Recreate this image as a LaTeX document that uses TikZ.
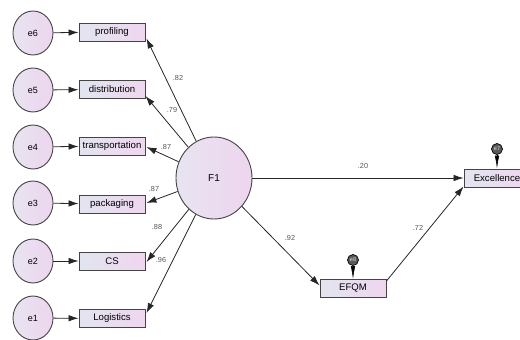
\documentclass[tikz,border=0pt]{standalone}
\usepackage{fontspec}
\setmainfont{Liberation Sans}
\usetikzlibrary{arrows.meta,calc,shapes.geometric}
\definecolor{shadeL}{HTML}{E2E5EF}
\definecolor{shadeR}{HTML}{EFD6EF}
\definecolor{circL}{HTML}{E8E4F1}
\definecolor{circR}{HTML}{EDD5EE}
\definecolor{edgeC}{HTML}{444444}
\definecolor{lblC}{HTML}{555555}
\begin{document}
\begin{tikzpicture}[x=1pt,y=-1pt,
  errc/.style={ellipse,draw=edgeC,line width=0.9pt,minimum width=40pt,minimum height=44pt,inner sep=0pt,
    shading=axis,shading angle=45,left color=circL,right color=circR,font=\fontsize{9}{10}\selectfont},
  fac/.style={ellipse,draw=edgeC,line width=0.9pt,minimum width=76pt,minimum height=82pt,inner sep=0pt,
    shading=axis,left color=circL,right color=circR,font=\fontsize{10}{11}\selectfont},
  obs/.style={rectangle,draw=edgeC,line width=0.9pt,minimum width=66pt,minimum height=18pt,inner sep=0pt,
    left color=shadeL,right color=shadeR,font=\fontsize{9.6}{11}\selectfont},
  pin/.style={circle,draw=black,line width=0.7pt,fill=black!65,minimum size=11pt,inner sep=0pt,
    font=\fontsize{5.5}{6}\selectfont,text=white!85!black},
  arr/.style={draw=black!85,line width=0.8pt,-{Latex[length=10pt,width=6.5pt]}},
  pinarr/.style={draw=black,line width=0.6pt,-{Latex[length=13pt,width=4.5pt]}},
  lbl/.style={font=\fontsize{7.3}{8}\selectfont,text=lblC,inner sep=0pt}]
\useasboundingbox (0,0) rectangle (520,340);
% error circles
\node[errc] (e6) at (33,33) {e6};
\node[errc] (e5) at (33,90) {e5};
\node[errc] (e4) at (33,147) {e4};
\node[errc] (e3) at (33,203) {e3};
\node[errc] (e2) at (33,261) {e2};
\node[errc] (e1) at (33,318) {e1};
% observed boxes
\node[obs] (prof)  at (112,32)  {profiling};
\node[obs] (dist)  at (112,89.5) {distribution};
\node[obs] (trans) at (112,146) {transportation};
\node[obs] (pack)  at (112,204) {packaging};
\node[obs] (cs)    at (112,261) {CS};
\node[obs] (logi)  at (112,318.5) {Logistics};
% factor
\node[fac] (F1) at (214,178) {F1};
% outcomes
\node[obs] (efqm) at (353,288.5) {EFQM};
\node[obs] (exc)  at (497,178) {Excellence};
\node[pin] (e8) at (353,260) {e8};
\node[pin] (e7) at (497,149) {e7};
% error arrows
\draw[arr] (e6) -- (prof);
\draw[arr] (e5) -- (dist);
\draw[arr] (e4) -- (trans);
\draw[arr] (e3) -- (pack);
\draw[arr] (e2) -- (cs);
\draw[arr] (e1) -- (logi);
\draw[pinarr] (e8) -- (efqm);
\draw[pinarr] (e7) -- (exc);
% loadings
\draw[arr] (F1) -- ($(prof.south east)+(1,-3)$);
\draw[arr] (F1) -- ($(dist.south east)+(0,-3)$);
\draw[arr] (F1) -- ($(trans.east)+(1,1)$);
\draw[arr] (F1) -- ($(pack.east)+(1,-1)$);
\draw[arr] (F1) -- ($(cs.east)+(1,1)$);
\draw[arr] (F1) -- ($(logi.north east)+(1,4)$);
% paths
\draw[arr] (F1) -- (exc);
\draw[arr] (F1) -- ($(efqm.west)+(0,-3)$);
\draw[arr] ($(efqm.north east)+(0,2)$) -- ($(exc.south west)+(0,-1)$);
% labels
\node[lbl] (l1) at (178,78) {.82};
\node[lbl] (l2) at (172,110) {.79};
\node[lbl] (l3) at (166,147) {.87};
\node[lbl] (l4) at (154,189) {.87};
\node[lbl] (l5) at (157,227) {.88};
\node[lbl] (l6) at (161,260) {.96};
\node[lbl] (l7) at (363,166) {.20};
\node[lbl] (l8) at (290,238) {.92};
\node[lbl] (l9) at (418,228) {.72};
\end{tikzpicture}
\end{document}
